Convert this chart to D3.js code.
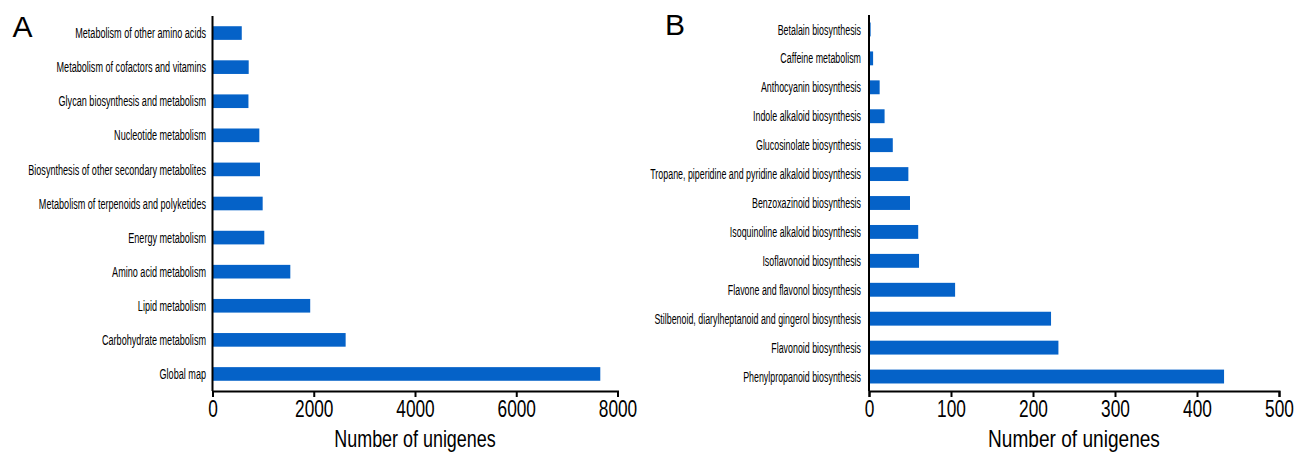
<!DOCTYPE html>
<html>
<head>
<meta charset="utf-8">
<script src="https://cdn.jsdelivr.net/npm/d3@7"></script>
<style>
  html, body { margin: 0; padding: 0; background: #fff; }
  svg { display: block; }
  text { font-family: "Liberation Sans", Arial, sans-serif; fill: #000; }
</style>
</head>
<body>
<svg id="chart" width="1296" height="452"></svg>
<script>
// KEGG pathway classification, panel A (top to bottom)
const categoriesA = [
  "Metabolism of other amino acids",
  "Metabolism of cofactors and vitamins",
  "Glycan biosynthesis and metabolism",
  "Nucleotide metabolism",
  "Biosynthesis of other secondary metabolites",
  "Metabolism of terpenoids and polyketides",
  "Energy metabolism",
  "Amino acid metabolism",
  "Lipid metabolism",
  "Carbohydrate metabolism",
  "Global map"
];
const valuesA = [578, 715, 710, 925, 938, 991, 1023, 1537, 1930, 2630, 7660];
const ticksA = [0, 2000, 4000, 6000, 8000];

// Secondary metabolite biosynthesis, panel B (top to bottom)
const categoriesB = [
  "Betalain biosynthesis",
  "Caffeine metabolism",
  "Anthocyanin biosynthesis",
  "Indole alkaloid biosynthesis",
  "Glucosinolate biosynthesis",
  "Tropane, piperidine and pyridine alkaloid biosynthesis",
  "Benzoxazinoid biosynthesis",
  "Isoquinoline alkaloid biosynthesis",
  "Isoflavonoid biosynthesis",
  "Flavone and flavonol biosynthesis",
  "Stilbenoid, diarylheptanoid and gingerol biosynthesis",
  "Flavonoid biosynthesis",
  "Phenylpropanoid biosynthesis"
];
const valuesB = [2, 5, 13, 19, 29, 48, 50, 60, 61, 105, 222, 231, 433];
const ticksB = [0, 100, 200, 300, 400, 500];

const xTitle = "Number of unigenes";
const barColor = "#0562c8";

const svg = d3.select("#chart");

function panel(opt) {
  const g = svg.append("g");
  const x = d3.scaleLinear().domain(opt.domain).range([opt.x0, opt.x1]);
  const y = d3.scaleBand().domain(opt.categories)
    .range([opt.yTop, opt.yBottom])
    .paddingInner(opt.padIn).paddingOuter(opt.padIn / 2);

  // bars
  g.selectAll("rect.bar").data(opt.categories).join("rect")
    .attr("class", "bar")
    .attr("x", x(0))
    .attr("y", d => y(d))
    .attr("width", (d, i) => x(opt.values[i]) - x(0))
    .attr("height", y.bandwidth())
    .attr("fill", barColor);

  // category labels (condensed)
  g.selectAll("g.lab").data(opt.categories).join("g")
    .attr("class", "lab")
    .attr("transform", d => `translate(${x(0) - opt.labelGap},${y(d) + y.bandwidth() / 2}) scale(${opt.labelScale},1)`)
    .append("text")
    .attr("text-anchor", "end")
    .attr("dy", "0.35em")
    .style("font-size", opt.labelSize + "px")
    .text(d => d);

  // y axis line
  g.append("line")
    .attr("x1", x(0)).attr("x2", x(0))
    .attr("y1", opt.yTop).attr("y2", opt.yBottom)
    .attr("stroke", "#000").attr("stroke-width", 2);

  // x axis
  const ax = g.append("g")
    .attr("transform", `translate(0,${opt.yBottom})`)
    .call(d3.axisBottom(x).tickValues(opt.ticks).tickSize(6).tickSizeOuter(6).tickFormat(d3.format("d")));
  ax.select(".domain").attr("stroke-width", 2);
  ax.selectAll(".tick line").attr("stroke-width", 2);
  ax.selectAll(".tick text")
    .attr("y", 9)
    .style("font-size", "24px")
    .attr("font-family", null)
    .attr("transform", "scale(0.72,1)");

  // x axis title
  g.append("g")
    .attr("transform", `translate(${(opt.x0 + opt.x1) / 2},${opt.yBottom + 56}) scale(${opt.titleScale},1)`)
    .append("text")
    .attr("text-anchor", "middle")
    .style("font-size", "23px")
    .text(xTitle);

  // panel letter
  g.append("text")
    .attr("x", opt.letterX).attr("y", opt.letterY)
    .style("font-size", "30px")
    .text(opt.letter);
}

panel({
  categories: categoriesA, values: valuesA, ticks: ticksA,
  domain: [0, 8000], x0: 212.5, x1: 617.5,
  yTop: 16, yBottom: 391, padIn: 0.6,
  labelGap: 6.5, labelScale: 0.627, labelSize: 14.5,
  titleScale: 0.78,
  letter: "A", letterX: 12.5, letterY: 37
});

panel({
  categories: categoriesB, values: valuesB, ticks: ticksB,
  domain: [0, 500], x0: 869, x1: 1279,
  yTop: 15, yBottom: 391, padIn: 0.52,
  labelGap: 8, labelScale: 0.612, labelSize: 14.5,
  titleScale: 0.83,
  letter: "B", letterX: 665, letterY: 35
});
</script>
</body>
</html>
